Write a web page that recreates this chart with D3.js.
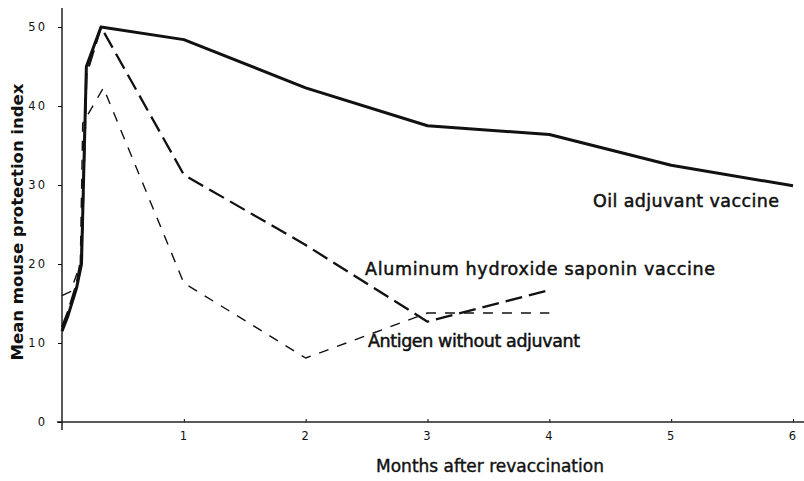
<!DOCTYPE html>
<html>
<head>
<style>
body { margin: 0; background: #fff; }
text { font-family: "DejaVu Sans", sans-serif; fill: #111; }
.tick text { font-size: 11.5px; letter-spacing: 2px; }
</style>
</head>
<body>
<svg width="804" height="481"></svg>
<script src="https://d3js.org/d3.v7.min.js"></script>
<script>

// months after revaccination, protection index
let oilMonths = [0, 0.05, 0.12, 0.16, 0.2, 0.32, 1, 2, 3, 4, 5, 6];
let oilValues = [11.5, 13.5, 17, 20, 45, 50, 48.4, 42.3, 37.5, 36.4, 32.5, 29.9];

let aluMonths = [0, 0.05, 0.12, 0.16, 0.2, 0.32, 1, 2, 3, 4];
let aluValues = [12, 14, 17.5, 21, 44, 50, 31.3, 22.4, 12.7, 16.7];

let antMonths = [0, 0.07, 0.15, 0.17, 0.34, 1, 2, 3, 4];
let antValues = [16, 16.5, 20, 37.8, 42.3, 17.6, 8.1, 13.8, 13.8];

let xTicks = [1, 2, 3, 4, 5, 6];
let yTicks = [0, 10, 20, 30, 40, 50];

let seriesNames = ["Oil adjuvant vaccine", "Aluminum hydroxide saponin vaccine", "Antigen without adjuvant"];

let svg = d3.select('svg');

let x = d3.scaleLinear().domain([0, 6]).range([62, 793]);
let y = d3.scaleLinear().domain([0, 50]).range([422, 27]);

// axes
svg.append('g')
    .attr('transform', 'translate(0,422)')
    .call(d3.axisBottom(x).tickValues(xTicks).tickSize(-3).tickPadding(10).tickFormat(d3.format('d')))
    .call(g => g.select('.domain').remove());

svg.append('line')
    .attr('x1', 57).attr('x2', 804)
    .attr('y1', 422).attr('y2', 422)
    .attr('stroke', '#222').attr('stroke-width', 1.3);

svg.append('g')
    .attr('transform', 'translate(62,0)')
    .call(d3.axisLeft(y).tickValues(yTicks).tickSize(4).tickPadding(11))
    .call(g => g.select('.domain').remove());

svg.append('line')
    .attr('x1', 62).attr('x2', 62)
    .attr('y1', 8).attr('y2', 430)
    .attr('stroke', '#222').attr('stroke-width', 1.5);

let line = d3.line()
    .x(function(d) { return x(d[0]); })
    .y(function(d) { return y(d[1]); });

let series = [
    { name: seriesNames[0], pts: d3.zip(oilMonths, oilValues), width: 3, dash: null },
    { name: seriesNames[1], pts: d3.zip(aluMonths, aluValues), width: 2.3, dash: '17,7' },
    { name: seriesNames[2], pts: d3.zip(antMonths, antValues), width: 1.4, dash: '10,9' }
];

svg.selectAll('path.series').data(series).join('path')
    .attr('class', 'series')
    .attr('d', function(d) { return line(d.pts); })
    .attr('fill', 'none')
    .attr('stroke', '#111')
    .attr('stroke-width', function(d) { return d.width; })
    .attr('stroke-dasharray', function(d) { return d.dash; })
    .attr('stroke-linejoin', 'round');

// series labels (left, baseline, width)
let labelPos = [[593, 207, 186], [365, 275, 350], [368, 347, 212]];
svg.selectAll('text.lbl').data(seriesNames).join('text')
    .attr('class', 'lbl')
    .attr('x', function(d, i) { return labelPos[i][0]; })
    .attr('y', function(d, i) { return labelPos[i][1]; })
    .attr('textLength', function(d, i) { return labelPos[i][2]; })
    .attr('lengthAdjust', 'spacing')
    .style('font-size', '17.5px')
    .style('stroke', '#111')
    .style('stroke-width', 0.5)
    .text(function(d) { return d; });

// axis titles
svg.append('text')
    .attr('transform', 'translate(23,222) rotate(-90)')
    .attr('text-anchor', 'middle')
    .style('font-size', '16.5px')
    .style('font-weight', 'bold')
    .text('Mean mouse protection index');

svg.append('text')
    .attr('x', 490).attr('y', 472)
    .attr('text-anchor', 'middle')
    .style('font-size', '17px')
    .style('stroke', '#111')
    .style('stroke-width', 0.4)
    .text('Months after revaccination');

</script>
</body>
</html>
